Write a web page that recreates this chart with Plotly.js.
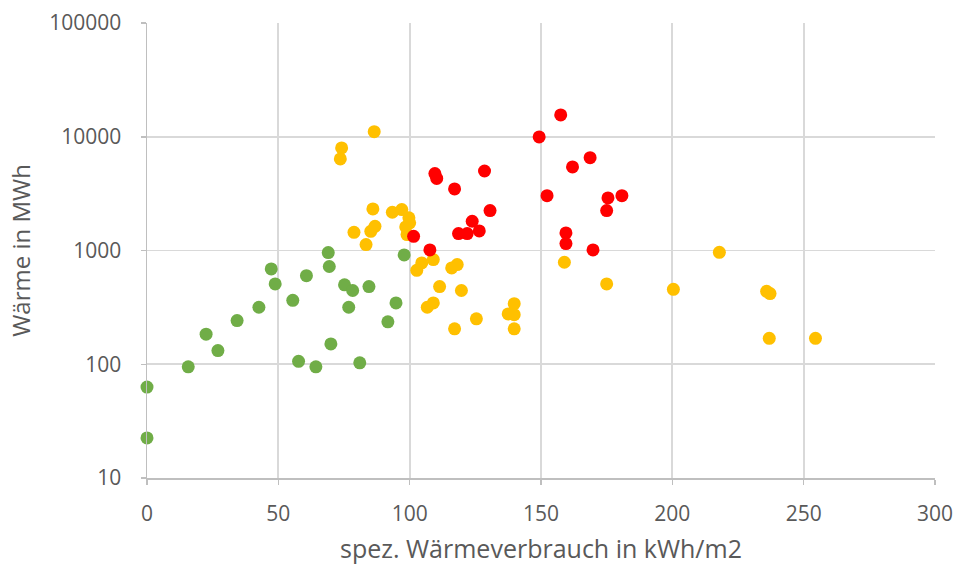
<!DOCTYPE html>
<html>
<head>
<meta charset="utf-8">
<script src="https://cdn.plot.ly/plotly-3.0.1.min.js"></script>
<style>html,body{margin:0;padding:0;background:#fff}#chart{width:959px;height:566px}</style>
</head>
<body>
<div id="chart"></div>
<script>
// Green group
var greenX = [0, 0, 15.7, 22.5, 27, 34.3, 42.6, 47.3, 48.8, 55.5, 57.7, 60.7, 64.3, 69, 69.4, 70, 75.2, 76.8, 78.3, 81, 84.5, 91.7, 94.8, 97.9];
var greenY = [63, 22.5, 95, 184, 132, 242, 317, 689, 508, 365, 106, 601, 95, 959, 723, 151, 499, 317, 445, 103, 482, 236, 346, 915];
// Yellow group
var yellowX = [86.5, 74.1, 73.6, 86, 93.4, 97, 99.7, 100, 98.5, 99, 86.8, 85.2, 78.8, 83.4,
  102.7, 104.6, 109, 116, 118.1, 111.4, 119.7, 106.7, 109, 117.1, 125.4, 139.8, 137.5, 139.8, 139.8,
  158.9, 175, 200.4, 217.9, 235.9, 237.2, 236.9, 254.5];
var yellowY = [11090, 7980, 6380, 2320, 2170, 2290, 1940, 1750, 1610, 1380, 1630, 1475, 1445, 1127,
  670, 778, 832, 703, 752, 482, 445, 317, 346, 205, 251, 341, 277, 273, 205,
  788, 508, 456, 964, 438, 418, 169, 169];
// Red group
var redX = [157.5, 149.3, 168.7, 162, 109.6, 110.3, 128.5, 117.1, 152.3, 175.5, 180.8, 175, 130.6, 123.8, 118.6, 121.9, 126.5, 101.5, 159.5, 159.5, 169.8, 107.7];
var redY = [15550, 9960, 6550, 5430, 4750, 4300, 5000, 3475, 3035, 2900, 3035, 2245, 2245, 1807, 1409, 1409, 1486, 1333, 1428, 1151, 1012, 1012];

var xTicks = [0, 50, 100, 150, 200, 250, 300];
var yTicks = [10, 100, 1000, 10000, 100000];
var yTickText = ['10', '100', '1000', '10000', '100000'];

function tr(x, y, c) {
  return {x: x, y: y, type: 'scatter', mode: 'markers', cliponaxis: false,
    marker: {color: c, size: 13, line: {width: 0}}, hoverinfo: 'x+y', showlegend: false};
}

var FONT = "'Open Sans', 'Noto Sans', sans-serif";
var layout = {
  width: 959, height: 566,
  margin: {l: 147, r: 24, t: 23, b: 88},
  paper_bgcolor: '#ffffff', plot_bgcolor: '#ffffff',
  font: {family: FONT, color: '#595959', size: 21},
  showlegend: false,
  xaxis: {
    range: [0, 300], tickvals: xTicks, ticktext: xTicks.map(String),
    showgrid: true, gridcolor: '#d9d9d9', gridwidth: 1.8,
    showline: true, linecolor: '#bfbfbf', linewidth: 1.5,
    ticks: 'outside', ticklen: 5, tickcolor: '#bfbfbf', tickwidth: 1.5,
    ticklabelstandoff: 11,
    zeroline: false, automargin: false, tickfont: {size: 21, color: '#595959'},
    title: {text: 'spez. Wärmeverbrauch in kWh/m2', font: {size: 25, color: '#595959'}, standoff: 15}
  },
  yaxis: {
    type: 'log', range: [1, 5], tickvals: yTicks, ticktext: yTickText,
    showgrid: true, gridcolor: '#d9d9d9', gridwidth: 1.8,
    showline: true, linecolor: '#bfbfbf', linewidth: 1.5,
    ticks: 'outside', ticklen: 5, tickcolor: '#bfbfbf', tickwidth: 1.5,
    ticklabelstandoff: 15,
    zeroline: false, automargin: false, tickfont: {size: 21, color: '#595959'},
    title: {text: 'Wärme in MWh', font: {size: 24, color: '#595959'}, standoff: 12}
  }
};

Plotly.newPlot('chart', [tr(greenX, greenY, '#70AD47'), tr(yellowX, yellowY, '#FFC000'), tr(redX, redY, '#FF0000')], layout, {staticPlot: true});
</script>
</body>
</html>
